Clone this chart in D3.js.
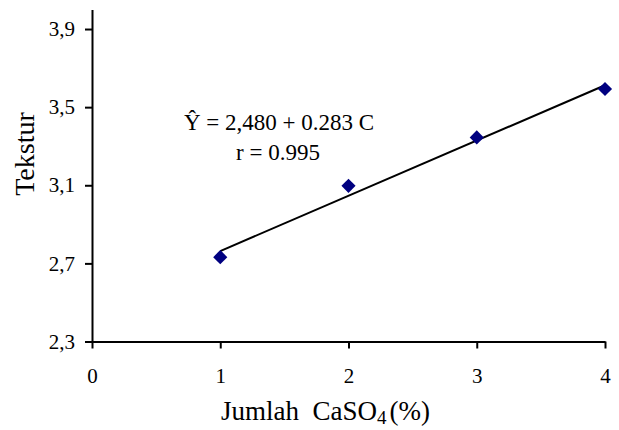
<!DOCTYPE html>
<html>
<head>
<meta charset="utf-8">
<script src="https://cdn.jsdelivr.net/npm/d3@7"></script>
<style>
  body { margin: 0; background: #fff; }
  svg text { font-family: "Liberation Serif", "Times New Roman", serif !important; fill: #000; }
</style>
</head>
<body>
<svg id="chart" width="619" height="430"></svg>
<script>
// CaSO4 dose (%) and measured texture score
const doses = [1, 2, 3, 4];
const texture = [2.732, 3.097, 3.345, 3.593];

const xTicks = [0, 1, 2, 3, 4];
const yTicks = [2.3, 2.7, 3.1, 3.5, 3.9];

// regression shown on the chart: Y = 2.480 + 0.283 C
const intercept = 2.480;
const slope = 0.283;

const svg = d3.select("#chart");

const x = d3.scaleLinear().domain([0, 4]).range([92, 605]);
const y = d3.scaleLinear().domain([2.3, 4.0]).range([341.5, 9.5]);

const fmt = d => d.toFixed(1).replace(".", ",");

// y axis
const yAxis = svg.append("g")
    .attr("transform", `translate(${x(0)},0)`)
    .call(d3.axisLeft(y).tickValues(yTicks).tickFormat(fmt).tickSize(7).tickPadding(10).tickSizeOuter(0));

// x axis
const xAxis = svg.append("g")
    .attr("transform", `translate(0,${y(2.3)})`)
    .call(d3.axisBottom(x).tickValues(xTicks).tickFormat(d3.format("d")).tickSize(7).tickPadding(20).tickSizeOuter(0));

[yAxis, xAxis].forEach(g => {
    g.attr("font-family", null);
    g.select(".domain").attr("stroke", "#000").attr("stroke-width", 2);
    g.selectAll(".tick line").attr("stroke", "#000").attr("stroke-width", 2);
    g.selectAll(".tick text")
        .attr("font-size", 21)
        .attr("fill", "#000");
});

// regression line across the data range
const xr = d3.extent(doses);
svg.append("line")
    .attr("x1", x(xr[0]))
    .attr("y1", y(intercept + slope * xr[0]))
    .attr("x2", x(xr[1]))
    .attr("y2", y(intercept + slope * xr[1]))
    .attr("stroke", "#000")
    .attr("stroke-width", 2);

// diamond markers
const diamond = d3.symbol().type(d3.symbolSquare).size(100);
svg.selectAll(".pt")
    .data(doses.map((d, i) => ({ c: d, v: texture[i] })))
    .enter().append("path")
    .attr("class", "pt")
    .attr("d", diamond)
    .attr("transform", d => `translate(${x(d.c)},${y(d.v)}) rotate(45)`)
    .attr("fill", "#000080");

// equation label
svg.append("text")
    .attr("x", 279)
    .attr("y", 130)
    .attr("text-anchor", "middle")
    .attr("font-size", 23)
    .text("Ŷ = 2,480 + 0.283 C");

svg.append("text")
    .attr("x", 278)
    .attr("y", 160)
    .attr("text-anchor", "middle")
    .attr("font-size", 23)
    .text("r = 0.995");

// axis titles
svg.append("text")
    .attr("transform", "translate(34,154) rotate(-90)")
    .attr("text-anchor", "middle")
    .attr("font-size", 28)
    .text("Tekstur");

const xt = svg.append("text")
    .attr("x", 221)
    .attr("y", 420)
    .attr("font-size", 27);
xt.append("tspan").text("Jumlah\u00a0\u00a0CaSO");
xt.append("tspan").attr("font-size", 19).attr("dy", 4).text("4");
xt.append("tspan").attr("dy", -4).attr("dx", 3).text("(%)");
</script>
</body>
</html>
